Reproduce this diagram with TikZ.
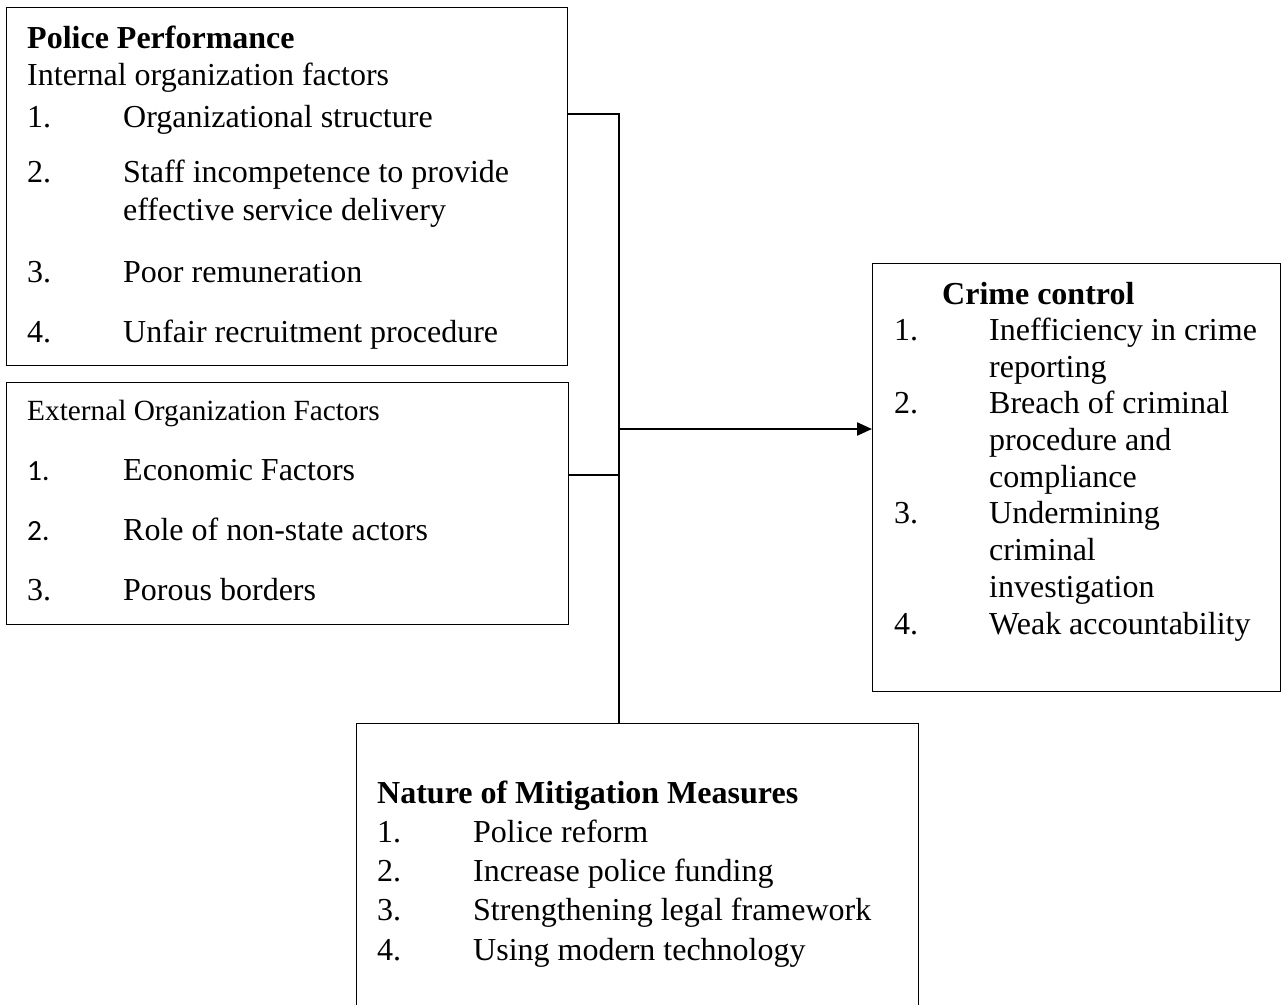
\documentclass[tikz,border=0pt]{standalone}
\usepackage{fontspec}
\setmainfont{Liberation Serif}
\newfontfamily\carlitofont{Carlito}
\usetikzlibrary{arrows.meta}
\begin{document}
\begin{tikzpicture}[x=1pt,y=-1pt,
  box/.style={draw, line width=1.4pt, inner sep=0pt, anchor=north west},
  txt/.style={anchor=base west, inner sep=0pt, font=\fontsize{32}{36}\selectfont},
  small/.style={anchor=base west, inner sep=0pt, font=\fontsize{29.3}{34}\selectfont},
  conn/.style={line width=1.4pt},
  arr/.style={line width=2.2pt, -{Triangle[length=15pt,width=13pt]}}]
\useasboundingbox (0,0) rectangle (1281,1004);
% boxes
\node[box, minimum width=561pt, minimum height=358pt] (b1) at (6,7) {};
\node[box, minimum width=562pt, minimum height=242pt] (b2) at (6,382) {};
\node[box, minimum width=408pt, minimum height=428pt] (b3) at (872,263) {};
\node[box, minimum width=562pt, minimum height=290pt] (b4) at (356,723) {};
% box 1 text
\node[txt] (p0) at (27,48) {\textbf{Police Performance}};
\node[txt] (p1) at (27,85) {Internal organization factors};
\node[txt] (p2n) at (27,127) {1.};
\node[txt] (p2) at (123,127) {Organizational structure};
\node[txt] (p3n) at (27,182) {2.};
\node[txt] (p3) at (123,182) {Staff incompetence to provide};
\node[txt] (p3b) at (123,220) {effective service delivery};
\node[txt] (p4n) at (27,282) {3.};
\node[txt] (p4) at (123,282) {Poor remuneration};
\node[txt] (p5n) at (27,342) {4.};
\node[txt] (p5) at (123,342) {Unfair recruitment procedure};
% box 2 text
\node[small] (e0) at (27,420) {External Organization Factors};
\node[small] (e1n) at (27,480) {\carlitofont 1.};
\node[txt] (e1) at (123,480) {Economic Factors};
\node[small] (e2n) at (27,540) {\carlitofont 2.};
\node[txt] (e2) at (123,540) {Role of non-state actors};
\node[txt] (e3n) at (27,600) {3.};
\node[txt] (e3) at (123,600) {Porous borders};
% box 3 text
\node[txt] (c0) at (942,304) {\textbf{Crime control}};
\node[txt] (c1n) at (894,340) {1.};
\node[txt] (c1) at (989,340) {Inefficiency in crime};
\node[txt] (c1b) at (989,377) {reporting};
\node[txt] (c2n) at (894,413) {2.};
\node[txt] (c2) at (989,413) {Breach of criminal};
\node[txt] (c2b) at (989,450) {procedure and};
\node[txt] (c2c) at (989,487) {compliance};
\node[txt] (c3n) at (894,523) {3.};
\node[txt] (c3) at (989,523) {Undermining};
\node[txt] (c3b) at (989,560) {criminal};
\node[txt] (c3c) at (989,597) {investigation};
\node[txt] (c4n) at (894,634) {4.};
\node[txt] (c4) at (989,634) {Weak accountability};
% box 4 text
\node[txt] (m0) at (377,803) {\textbf{Nature of Mitigation Measures}};
\node[txt] (m1n) at (377,842) {1.};
\node[txt] (m1) at (473,842) {Police reform};
\node[txt] (m2n) at (377,881) {2.};
\node[txt] (m2) at (473,881) {Increase police funding};
\node[txt] (m3n) at (377,920) {3.};
\node[txt] (m3) at (473,920) {Strengthening legal framework};
\node[txt] (m4n) at (377,960) {4.};
\node[txt] (m4) at (473,960) {Using modern technology};
% connectors
\coordinate (j1) at (619,114);
\coordinate (j2) at (619,475);
\coordinate (j3) at (619,429);
\draw[conn] (b1.east |- j1) -- (j1) -- (j1 |- b4.north);
\draw[conn] (b2.east |- j2) -- (j2);
\draw[arr] (j3) -- (j3 -| b3.west);
\end{tikzpicture}
\end{document}
